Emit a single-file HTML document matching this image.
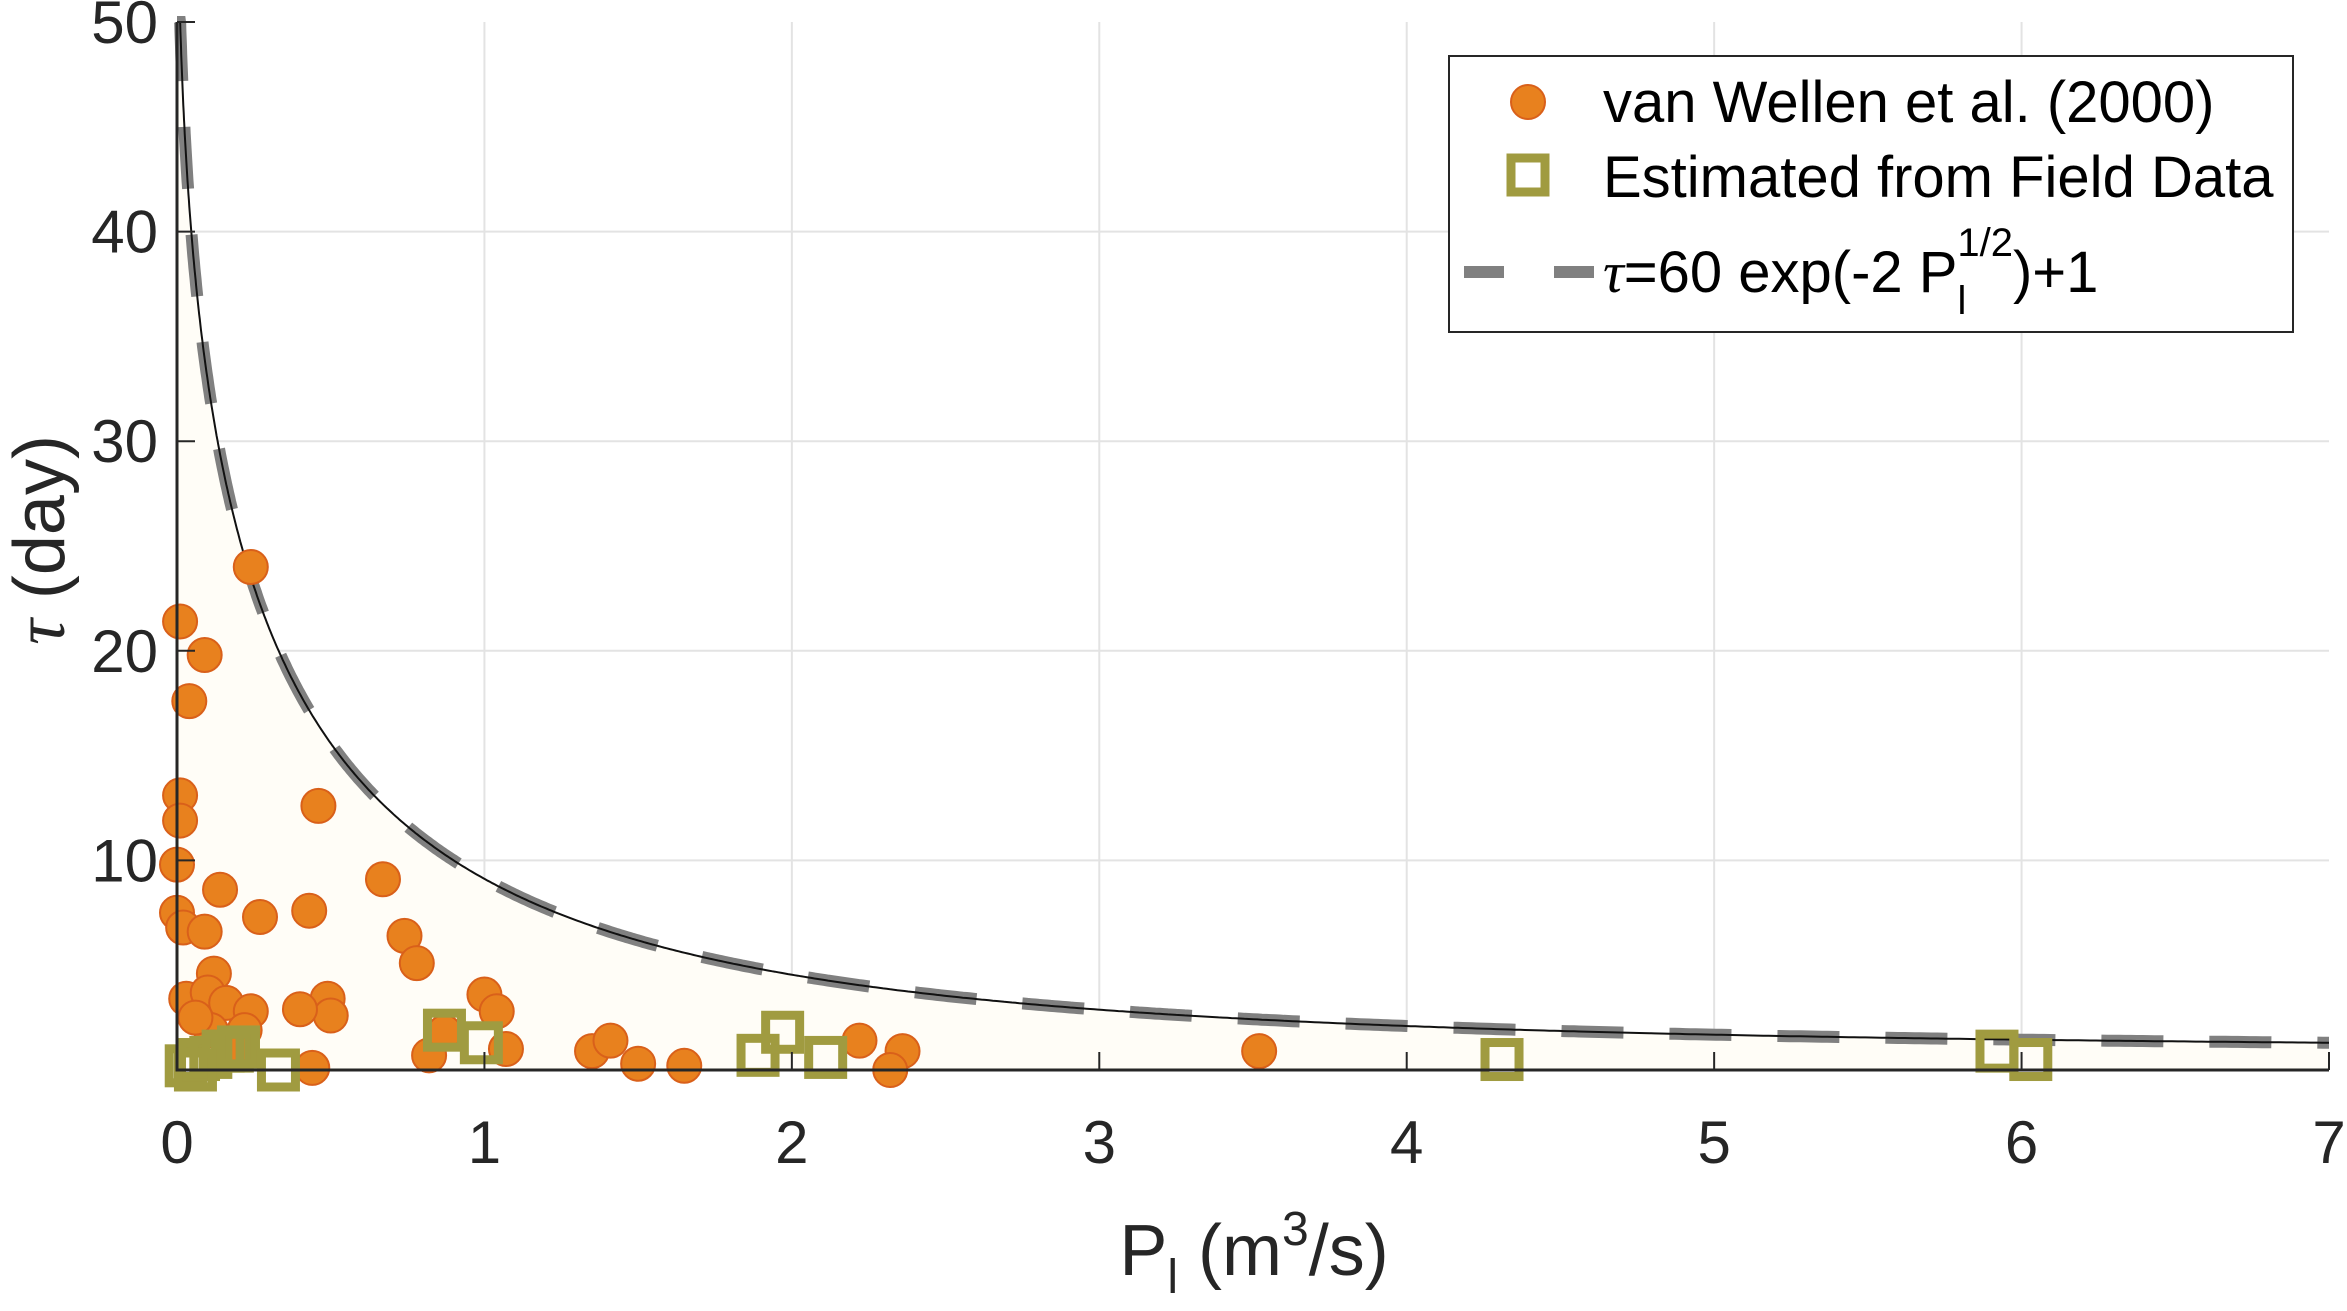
<!DOCTYPE html>
<html><head><meta charset="utf-8"><style>
html,body{margin:0;padding:0;background:#fff;}
svg{display:block;font-family:"Liberation Sans",sans-serif;}
</style></head><body>
<svg id="chart" width="2347" height="1311" viewBox="0 0 2347 1311" xmlns="http://www.w3.org/2000/svg">
<rect width="2347" height="1311" fill="#fff"/>
<g id="grid"></g>
<g id="fill"></g>
<g id="curve"></g>
<g id="circles"></g>
<g id="squares"></g>
<g id="axes"></g>
<text x="1254" y="1275" font-size="72" text-anchor="middle" fill="#262626">P<tspan font-size="48" dy="18">l</tspan><tspan dy="-18"> (m</tspan><tspan font-size="48" dy="-30">3</tspan><tspan dy="30">/s)</tspan></text>
<text transform="translate(64,540) rotate(-90)" font-size="72" text-anchor="middle" fill="#262626"><tspan font-family="Liberation Serif,serif" font-style="italic">τ</tspan> (day)</text>
<g>
<rect x="1449" y="56" width="844" height="276" fill="#fff" stroke="#262626" stroke-width="2"/>
<circle cx="1528" cy="102" r="17" fill="#E8811E" stroke="#D9601A" stroke-width="2"/>
<text x="1603" y="122" font-size="58" fill="#000">van Wellen et al. (2000)</text>
<rect x="1511" y="158" width="34" height="34" fill="none" stroke="#A09B40" stroke-width="9"/>
<text x="1603" y="197" font-size="58" fill="#000">Estimated from Field Data</text>
<line x1="1464" y1="272" x2="1594" y2="272" stroke="#808080" stroke-width="12" stroke-dasharray="40,50"/>
<text x="1603" y="292" font-size="58" fill="#000"><tspan font-family="Liberation Serif,serif" font-style="italic">τ</tspan>=60 exp(-2 P<tspan font-size="40" dy="22">l</tspan><tspan font-size="40" dx="-9" dy="-58">1/2</tspan><tspan dy="36">)+1</tspan></text>
</g>
</svg>
<script>
const xTicks=[0,1,2,3,4,5,6,7];
const yTicks=[10,20,30,40,50];
const vwX=[0.01,0.09,0.04,0.24,0.01,0.01,0.0,0.14,0.0,0.02,0.09,0.27,0.46,0.67,0.43,0.74,0.78,0.12,0.03,0.10,0.16,0.24,0.49,0.50,0.40,0.22,1.0,1.04,1.07,0.82,0.87,1.35,1.41,1.50,1.65,2.22,2.36,2.32,3.52,0.44,0.11,0.06,0.20];
const vwY=[21.4,19.8,17.6,24.0,13.1,11.9,9.8,8.6,7.5,6.8,6.6,7.3,12.6,9.1,7.6,6.4,5.1,4.6,3.4,3.7,3.2,2.8,3.4,2.6,2.9,1.9,3.6,2.8,1.0,0.7,1.8,0.9,1.4,0.3,0.2,1.4,0.9,0.0,0.9,0.1,1.9,2.5,1.2];
const fdX=[0.03,0.07,0.11,0.15,0.18,0.20,0.06,0.33,0.87,0.99,1.89,1.97,2.11,4.31,5.92,6.03];
const fdY=[0.2,0.5,0.6,0.9,0.9,1.1,0.0,0.0,1.9,1.3,0.7,1.8,0.6,0.5,0.9,0.5];
const L=177,R=2329,T=22,B=1070;
const X=v=>L+(v/7)*(R-L);
const Y=v=>B-(v/50)*(B-T);
const NS='http://www.w3.org/2000/svg';
function mk(tag,parent,attrs){const e=document.createElementNS(NS,tag);for(const k in attrs)e.setAttribute(k,attrs[k]);parent.appendChild(e);return e;}
const grid=document.getElementById('grid');
xTicks.forEach(t=>{if(t>0&&t<7){const l=mk('line',grid,{x1:X(t),x2:X(t),y1:T,y2:B,stroke:'#e3e3e3','stroke-width':2});

}});
yTicks.forEach(t=>{if(t<50){const l=mk('line',grid,{x1:L,x2:R,y1:Y(t),y2:Y(t),stroke:'#e3e3e3','stroke-width':2});

}});
const f=p=>60*Math.exp(-2*Math.sqrt(p))+1;
let pts=[];
for(let i=0;i<=700;i++){const p=7*Math.pow(i/700,2);const y=Math.min(f(p),50);pts.push([X(p),Y(y)]);}
const d='M'+pts.map(q=>q[0].toFixed(1)+','+q[1].toFixed(1)).join('L');
const fp=mk('path',document.getElementById('fill'),{d:d+'L'+X(7)+','+B+'L'+L+','+B+'Z',fill:'#FFFDF7'});


const cg=document.getElementById('curve');
const c1=mk('path',cg,{d:d,fill:'none',stroke:'#808080','stroke-width':12,'stroke-dasharray':'62,46'});


const c2=mk('path',cg,{d:d,fill:'none',stroke:'#111','stroke-width':2});


const cgp=document.getElementById('circles');
vwX.forEach((x,i)=>{const c=mk('circle',cgp,{cx:X(x),cy:Y(vwY[i]),r:17,fill:'#E8811E',stroke:'#D9601A','stroke-width':2});

});
const sg=document.getElementById('squares');
fdX.forEach((x,i)=>{const s=mk('rect',sg,{x:X(x)-17,y:Y(fdY[i])-17,width:34,height:34,fill:'none',stroke:'#A09B40','stroke-width':9});

});
const ax=document.getElementById('axes');
const a1=mk('path',ax,{d:`M${L},${T}L${L},${B}L${R},${B}`,fill:'none',stroke:'#262626','stroke-width':3});


xTicks.forEach(t=>{const tl=mk('line',ax,{x1:X(t),x2:X(t),y1:B,y2:B-18,stroke:'#262626','stroke-width':2});


const tx=mk('text',ax,{x:X(t),y:1163,'font-size':60,'text-anchor':'middle',fill:'#262626'});tx.textContent=t;

});
yTicks.forEach(t=>{const tl=mk('line',ax,{x1:L,x2:L+18,y1:Y(t),y2:Y(t),stroke:'#262626','stroke-width':2});


const tx=mk('text',ax,{x:158,y:Y(t)+21,'font-size':60,'text-anchor':'end',fill:'#262626'});tx.textContent=t;

});
</script>
</body></html>
